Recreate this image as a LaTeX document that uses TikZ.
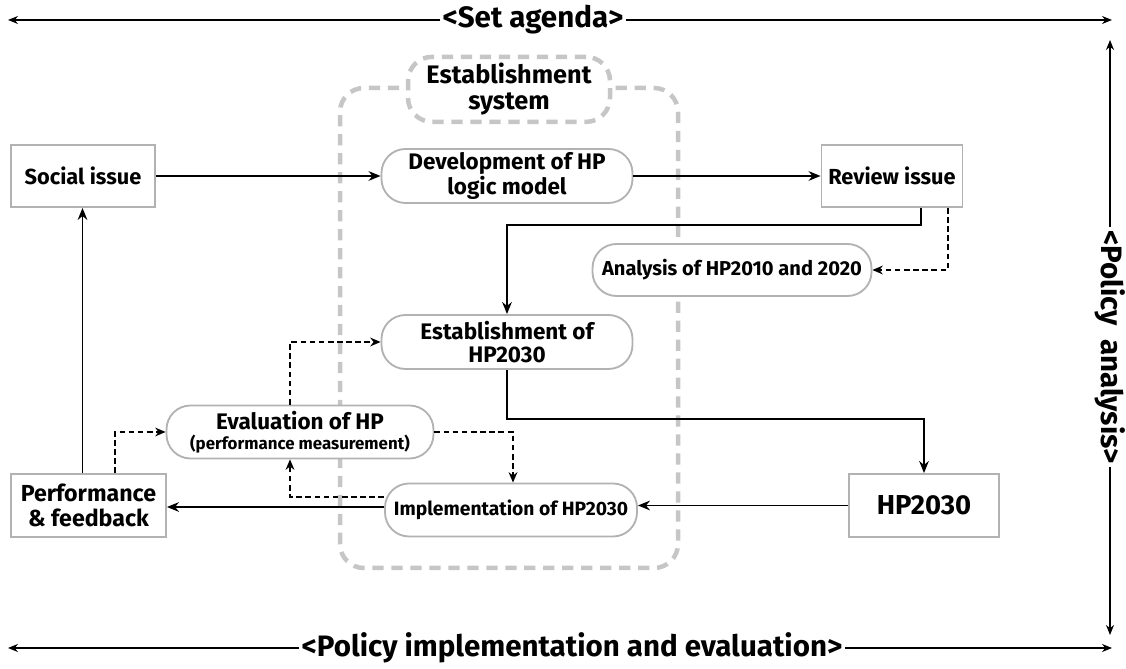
\documentclass[tikz,border=0pt]{standalone}
\usepackage{fontspec}
\setmainfont{Fira Sans}
\usetikzlibrary{arrows.meta}

\tikzset{
  box/.style={draw=gray!60, line width=1.3pt, fill=white, minimum width=3.6cm, minimum height=1.55cm, align=center, font=\bfseries\fontsize{15.5pt}{17pt}\selectfont},
  pill/.style={draw=gray!60, line width=1.3pt, fill=white, rounded corners=0.6cm, minimum width=6.275cm, minimum height=1.35cm, align=center, inner sep=1pt, font=\bfseries\fontsize{16pt}{16.5pt}\selectfont},
  flow/.style={-{Stealth[length=3mm,width=2.4mm]}, line width=1.4pt},
  dflow/.style={-{Stealth[length=2.6mm,width=2.2mm]}, line width=1.1pt, dash pattern=on 4pt off 2.5pt},
  axis/.style={{Stealth[length=2.5mm,width=2mm]}-{Stealth[length=2.5mm,width=2mm]}, line width=0.8pt},
  axislabel/.style={fill=white, inner sep=2pt, font=\bfseries\fontsize{21pt}{23pt}\selectfont},
  sysline/.style={draw=gray!45, line width=3.2pt, dash pattern=on 8pt off 5.5pt, rounded corners=0.6cm}
}

\begin{document}
\begin{tikzpicture}
  \useasboundingbox (0,0) rectangle (28.15,16.725);

  % establishment system frame
  \draw[sysline] (8.5,2.525) rectangle (16.95,14.525);
  \node[sysline, fill=white, minimum width=5.05cm, minimum height=1.625cm, align=center, inner sep=1pt,
        font=\bfseries\fontsize{18pt}{18.5pt}\selectfont] (sys) at (12.725,14.49) {Establishment\\system};

  % nodes
  \node[box] (social) at (2.075,12.325) {Social issue};
  \node[pill] (devel) at (12.675,12.325) {Development of HP\\logic model};
  \node[box, minimum width=3.525cm] (review) at (22.3,12.325) {Review issue};
  \node[pill, minimum width=6.975cm, minimum height=1.3cm, font=\bfseries\fontsize{14.3pt}{15pt}\selectfont] (analysis) at (18.3,9.975) {Analysis of HP2010 and 2020};
  \node[pill] (estab) at (12.675,8.175) {Establishment of\\HP2030};
  \node[pill, minimum width=6.675cm, minimum height=1.325cm] (evalu) at (7.5,5.925) {Evaluation of HP\\[-2pt]{\fontsize{12pt}{13pt}\selectfont (performance measurement)}};
  \node[box, minimum width=3.875cm, minimum height=1.575cm, font=\bfseries\fontsize{16.5pt}{18pt}\selectfont] (perf) at (2.2125,4.0875) {Performance\\\& feedback};
  \node[pill, minimum width=6.3cm, minimum height=1.325cm, font=\bfseries\fontsize{13.7pt}{15pt}\selectfont] (impl) at (12.775,3.975) {Implementation of HP2030};
  \node[box, minimum width=3.75cm, minimum height=1.575cm, font=\bfseries\fontsize{19.5pt}{21pt}\selectfont] (hp) at (23.1,4.0875) {HP2030};

  % solid flow
  \draw[flow] (social) -- (devel);
  \draw[flow] (devel) -- (review);
  \draw[flow] ([xshift=7.25mm]review.south) -- ++(0,-0.425) -| (estab.north);
  \draw[flow] (estab.south) -- ++(0,-1.225) -| (hp.north);
  \draw[flow] (hp.west) -- (hp.west -| impl.east);
  \draw[flow] ([yshift=0.75mm]impl.west) -- ([yshift=0.75mm]impl.west -| perf.east);
  \draw[flow] ([xshift=-0.15cm]perf.north) -- ([xshift=-0.15cm]perf.north |- social.south);

  % dashed flow
  \draw[dflow] ([xshift=14mm]review.south) |- (analysis.east);
  \draw[dflow] ([xshift=6.6mm]perf.north) |- (evalu.west);
  \draw[dflow] ([xshift=-2.5mm]evalu.north) |- (estab.west);
  \draw[dflow] (evalu.east) -| ([xshift=0.5mm]impl.north);
  \draw[dflow] ([yshift=3.25mm]impl.west) -| ([xshift=-2.5mm]evalu.south);

  % policy axes
  \coordinate (tl) at (0.2,16.225);
  \coordinate (tr) at (27.8,16.225);
  \coordinate (rb) at (27.75,0.85);
  \coordinate (rt) at (27.75,15.725);
  \coordinate (bl) at (0.2,0.525);
  \coordinate (br) at (27.8,0.525);
  \draw[axis] (tl) -- (tr);
  \draw[axis] (rt) -- (rb);
  \draw[axis] (bl) -- (br);
  \node[axislabel] (agenda) at (13.325,16.225) {<Set agenda>};
  \node[axislabel, rotate=-90] (analysisaxis) at (27.75,8.05) {<Policy\hspace{0.45em}analysis>};
  \node[axislabel] (implaxis) at (14.3,0.525) {<Policy implementation and evaluation>};
\end{tikzpicture}
\end{document}
